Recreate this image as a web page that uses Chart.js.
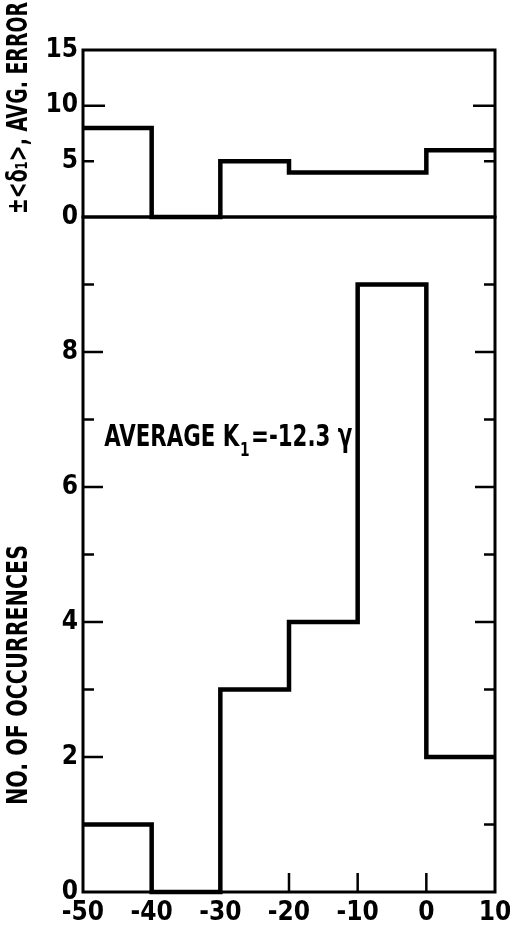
<!DOCTYPE html>
<html><head><meta charset="utf-8">
<script src="https://cdn.jsdelivr.net/npm/chart.js@4"></script>
<style>
html,body{margin:0;padding:0;background:#fff;width:510px;height:926px;overflow:hidden;}
#topc{position:absolute;left:0;top:0;}
#botc{position:absolute;left:0;top:200px;}
</style></head><body>
<canvas id="topc" width="510" height="240"></canvas>
<canvas id="botc" width="510" height="726"></canvas>
<script>
// ---- data ----
const binEdges = [-50, -40, -30, -20, -10, 0, 10];
const avgError = [8, 0, 5, 4, 4, 6];
const occurrences = [1, 0, 3, 4, 9, 2];
const errorTickLabels = [0, 5, 10, 15];
const occTickLabels = [0, 2, 4, 6, 8];
const xTickLabels = [-50, -40, -30, -20, -10, 0, 10];
const topTitle = '±<δ₁>, AVG. ERROR';
const botTitle = 'NO. OF OCCURRENCES';
const notePre = 'AVERAGE K', noteSub = '1', notePost = '=-12.3 γ';
const notePos = {x: -46.9, y: 6.75};

const FONT = '"DejaVu Sans Condensed", "Liberation Sans Narrow", sans-serif';
function stepPoints(edges, vals) {
  const pts = vals.map((v, i) => ({x: edges[i], y: v}));
  pts.push({x: edges[edges.length - 1], y: vals[vals.length - 1]});
  return pts;
}

const framePlugin = {
  id: 'frame',
  afterDatasetsDraw(chart, args, opts) {
    const ctx = chart.ctx, a = chart.chartArea;
    const xs = chart.scales.x, ys = chart.scales.y;
    ctx.save();
    ctx.strokeStyle = '#000';
    ctx.lineWidth = 3;
    ctx.strokeRect(a.left, a.top, a.right - a.left, a.bottom - a.top);
    ctx.lineWidth = 2.5;
    (opts.yTicks || []).forEach(t => {
      const py = ys.getPixelForValue(t.v);
      ctx.beginPath();
      ctx.moveTo(a.left, py); ctx.lineTo(a.left + t.len, py);
      ctx.moveTo(a.right, py); ctx.lineTo(a.right - t.len, py);
      ctx.stroke();
    });
    (opts.xTicks || []).forEach(v => {
      const px = xs.getPixelForValue(v);
      ctx.beginPath();
      ctx.moveTo(px, a.bottom); ctx.lineTo(px, a.bottom - 19);
      ctx.stroke();
    });
    ctx.fillStyle = '#000';
    if (opts.title) {
      ctx.save();
      ctx.translate(opts.title.x, opts.title.y);
      ctx.rotate(-Math.PI / 2);
      ctx.font = 'bold 28px ' + FONT;
      ctx.textAlign = 'center';
      ctx.textBaseline = 'middle';
      const w = ctx.measureText(opts.title.text).width;
      ctx.scale(opts.title.len / w, 1);
      ctx.fillText(opts.title.text, 0, 0);
      ctx.restore();
    }
    if (opts.note) {
      const px = xs.getPixelForValue(notePos.x), py = ys.getPixelForValue(notePos.y);
      ctx.save();
      ctx.textAlign = 'left';
      ctx.textBaseline = 'alphabetic';
      ctx.font = 'bold 31px ' + FONT;
      const w1 = ctx.measureText(notePre).width;
      const w3 = ctx.measureText(notePost).width;
      ctx.font = 'bold 20px ' + FONT;
      const w2 = ctx.measureText(noteSub).width;
      const total = w1 + w2 + w3 + 3;
      ctx.translate(px, py);
      ctx.scale(opts.noteLen / total, 1);
      ctx.font = 'bold 31px ' + FONT;
      ctx.fillText(notePre, 0, 10);
      ctx.font = 'bold 20px ' + FONT;
      ctx.fillText(noteSub, w1 + 1, 20);
      ctx.font = 'bold 31px ' + FONT;
      ctx.fillText(notePost, w1 + w2 + 3, 10);
      ctx.restore();
    }
    ctx.restore();
  }
};

const common = {
  responsive: false,
  animation: false,
  devicePixelRatio: 1,
  plugins: {legend: {display: false}, tooltip: {enabled: false}},
};
function yFit(s) { s.width = 83; s.paddingTop = 0; s.paddingBottom = 0; }
function xFit(s) { s.height = 34; s.paddingLeft = 0; s.paddingRight = 0; }
const tickFont = {family: FONT, size: 26, weight: 'bold'};

new Chart(document.getElementById('topc'), {
  type: 'line',
  data: {datasets: [{data: stepPoints(binEdges, avgError), stepped: 'before',
    borderColor: '#000', borderWidth: 4.5, pointRadius: 0, fill: false, clip: false}]},
  options: Object.assign({}, common, {
    layout: {padding: {top: 50, right: 15, bottom: 23, left: 0}},
    plugins: Object.assign({}, common.plugins, {
      frame: {yTicks: [{v: 5, len: 11}, {v: 10, len: 22}], title: {text: topTitle, x: 20, y: 108, len: 212}}
    }),
    scales: {
      x: {type: 'linear', min: -50, max: 10, display: false},
      y: {min: 0, max: 15,
        afterBuildTicks(s) { s.ticks = errorTickLabels.map(v => ({value: v})); },
        ticks: {color: '#000', padding: 5, font: tickFont, autoSkip: false},
        grid: {display: false, drawTicks: false}, border: {display: false},
        afterFit: yFit
      }
    }
  }),
  plugins: [framePlugin]
});

new Chart(document.getElementById('botc'), {
  type: 'line',
  data: {datasets: [{data: stepPoints(binEdges, occurrences), stepped: 'before',
    borderColor: '#000', borderWidth: 4.5, pointRadius: 0, fill: false, clip: false}]},
  options: Object.assign({}, common, {
    layout: {padding: {top: 17, right: 15, bottom: 0, left: 0}},
    plugins: Object.assign({}, common.plugins, {
      frame: {
        yTicks: [1,2,3,4,5,6,7,8,9].map(v => ({v, len: v % 2 === 0 ? 20 : 11})),
        xTicks: xTickLabels.slice(1, -1),
        title: {text: botTitle, x: 20, y: 475, len: 260},
        note: true, noteLen: 248
      }
    }),
    scales: {
      x: {type: 'linear', min: -50, max: 10,
        afterBuildTicks(s) { s.ticks = xTickLabels.map(v => ({value: v})); },
        ticks: {color: '#000', padding: 6, font: tickFont, autoSkip: false, maxRotation: 0},
        grid: {display: false, drawTicks: false}, border: {display: false},
        afterFit: xFit
      },
      y: {min: 0, max: 10,
        afterBuildTicks(s) { s.ticks = occTickLabels.map(v => ({value: v})); },
        ticks: {color: '#000', padding: 5, font: tickFont, autoSkip: false},
        grid: {display: false, drawTicks: false}, border: {display: false},
        afterFit: yFit
      }
    }
  }),
  plugins: [framePlugin]
});
</script>
</body></html>
